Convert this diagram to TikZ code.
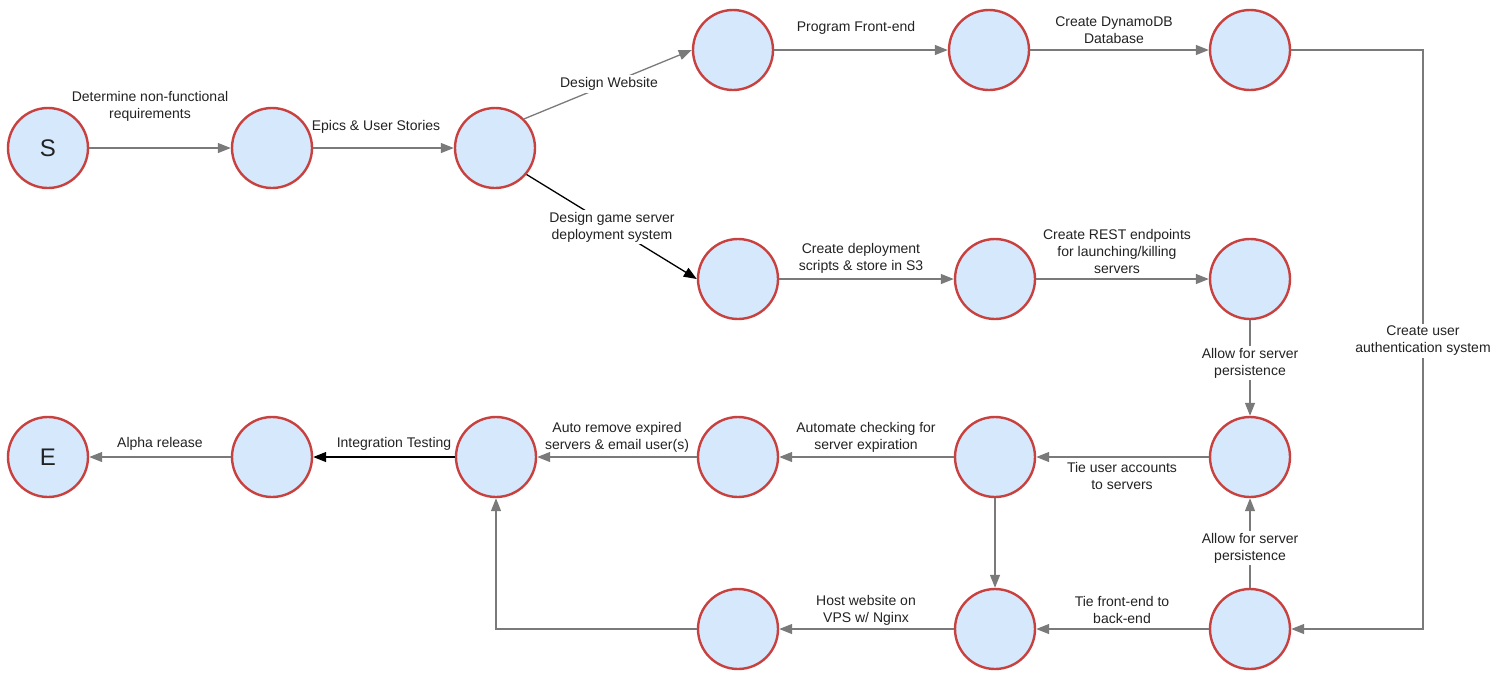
\documentclass[tikz,border=0pt]{standalone}
\usepackage{fontspec}
\setmainfont{Liberation Sans}
\usetikzlibrary{arrows.meta}
\definecolor{cfill}{HTML}{D6E8FC}
\definecolor{cdraw}{HTML}{C8413F}
\definecolor{cline}{HTML}{7A7A7A}
\definecolor{ctext}{HTML}{222222}
\begin{document}
\begin{tikzpicture}[x=1pt,y=-1pt,
  state/.style={circle,draw=cdraw,fill=cfill,line width=2.4pt,minimum size=80pt,inner sep=0pt,font=\fontsize{24}{24}\selectfont,text=ctext},
  lbl/.style={inner sep=2pt,align=center,text=ctext,font=\fontsize{14}{17}\selectfont},
  brk/.style={lbl,fill=white},
  conn/.style={draw=cline,line width=1.3pt,-{Triangle[length=13pt,width=10pt]}},
  bconn/.style={draw=black,line width=1.3pt,-{Triangle[length=13pt,width=10pt]}}]
\useasboundingbox (0,0) rectangle (1507,675);
% nodes
\node[state] (S) at (48,148) {S};
\node[state] (a1) at (272,148) {};
\node[state] (a2) at (495,148) {};
\node[state] (t1) at (733,50) {};
\node[state] (t2) at (989,50) {};
\node[state] (t3) at (1250,50) {};
\node[state] (m1) at (738,279) {};
\node[state] (m2) at (995,279) {};
\node[state] (m3) at (1250,279) {};
\node[state] (E) at (48,457) {E};
\node[state] (r1) at (272,457) {};
\node[state] (r2) at (496,457) {};
\node[state] (r3) at (738,457) {};
\node[state] (r4) at (995,457) {};
\node[state] (r5) at (1250,457) {};
\node[state] (b1) at (738,629) {};
\node[state] (b2) at (995,629) {};
\node[state] (b3) at (1250,629) {};
\coordinate (c1) at (1423,50);
\coordinate (c2) at (1423,629);
\coordinate (c3) at (496,629);
% edges
\draw[conn] (S) -- (a1);
\draw[conn] (a1) -- (a2);
\draw[conn] (a2.45) -- (t1.west);
\draw[bconn] (a2.-40) -- (m1.west);
\draw[conn] (t1) -- (t2);
\draw[conn] (t2) -- (t3);
\draw[conn] (t3.east) -- (c1) -- (c2) -- (b3.east);
\draw[conn] (m1) -- (m2);
\draw[conn] (m2) -- (m3);
\draw[conn] (m3) -- (r5);
\draw[conn] (b3) -- (r5);
\draw[conn] (r5) -- (r4);
\draw[conn] (r4) -- (b2);
\draw[conn] (r4) -- (r3);
\draw[conn] (r3) -- (r2);
\draw[bconn] (r2) -- (r1);
\draw[conn] (r1) -- (E);
\draw[conn] (b3) -- (b2);
\draw[conn] (b2) -- (b1);
\draw[conn] (b1.west) -- (c3) -- (r2.south);
% labels
\node[lbl] (l1) at (150,106) {Determine non-functional\\requirements};
\node[lbl] (l2) at (376,127) {Epics \& User Stories};
\node[brk] (l3) at (609,84) {Design Website};
\node[brk] (l4) at (612,227) {Design game server\\deployment system};
\node[lbl] (l5) at (856,28) {Program Front-end};
\node[lbl] (l6) at (1114,30) {Create DynamoDB\\Database};
\node[lbl] (l7) at (861,258) {Create deployment\\scripts \& store in S3};
\node[lbl] (l8) at (1117,251) {Create REST endpoints\\for launching/killing\\servers};
\node[brk] (l9) at (1423,341) {Create user\\authentication system};
\node[brk] (l10) at (1250,363) {Allow for server\\persistence};
\node[brk] (l11) at (1250,548) {Allow for server\\persistence};
\node[lbl] (l12) at (1122,476) {Tie user accounts\\to servers};
\node[lbl] (l13) at (866,437) {Automate checking for\\server expiration};
\node[lbl] (l14) at (617,437) {Auto remove expired\\servers \& email user(s)};
\node[lbl] (l15) at (394,444) {Integration Testing};
\node[lbl] (l16) at (160,444) {Alpha release};
\node[lbl] (l17) at (1122,610) {Tie front-end to\\back-end};
\node[lbl] (l18) at (866,610) {Host website on\\VPS w/ Nginx};
\end{tikzpicture}
\end{document}
